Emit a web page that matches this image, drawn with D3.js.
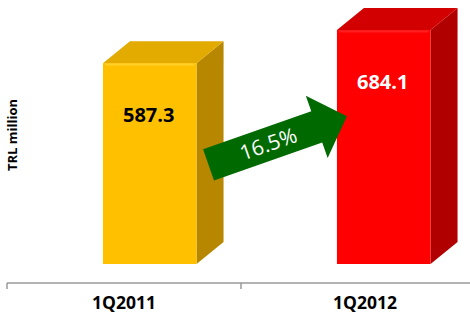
<!DOCTYPE html>
<html><head><meta charset="utf-8">
<script src="https://cdn.jsdelivr.net/npm/d3@7"></script>
<style>html,body{margin:0;padding:0;background:#fff;}svg{display:block;}</style>
</head><body>
<script>
const categories = ["1Q2011", "1Q2012"];
const values = [587.3, 684.1];
const valueLabels = ["587.3", "684.1"];
const growthLabel = "16.5%";
const yTitle = "TRL million";

const frontColors = ["#FFC000", "#FF0000"];
const sideColors = ["#B78700", "#B00000"];
const topColors = ["#E3AA00", "#D20000"];
const edgeColors = ["#FFD633", "#FF3030"];
const labelColors = ["#000000", "#FFFFFF"];

const W = 470, H = 322;
const svg = d3.select("body").append("svg").attr("width", W).attr("height", H);

const x = d3.scaleBand().domain(categories).range([7, 475]);
const y = d3.scaleLinear().domain([0, 700]).range([264, 24.6]);
const bw = x.bandwidth();
const frontX = c => x(c) + bw * 0.41;
const frontW = bw * 0.40;
const dx = 27, dy = -22;

// bars
const g = svg.append("g");
categories.forEach((c, i) => {
  const x0 = frontX(c), x1 = x0 + frontW, yt = y(values[i]), yb = y(0);
  g.append("path").attr("d", `M${x1},${yt}L${x1+dx},${yt+dy}L${x1+dx},${yb+dy}L${x1},${yb}Z`).attr("fill", sideColors[i]);
  g.append("path").attr("d", `M${x0},${yt}L${x0+dx},${yt+dy}L${x1+dx},${yt+dy}L${x1},${yt}Z`).attr("fill", topColors[i]);
  g.append("rect").attr("x", x0).attr("y", yt).attr("width", frontW).attr("height", yb - yt).attr("fill", frontColors[i]);
  // bevel highlight along the front top edge
  g.append("line").attr("x1", x0 + 2).attr("x2", x1 - 2).attr("y1", yt + 1.5).attr("y2", yt + 1.5)
    .attr("stroke", edgeColors[i]).attr("stroke-width", 2).attr("opacity", 0.7);
  g.append("text").attr("x", x0 + frontW / 2 - 1).attr("y", yt + 59)
    .attr("text-anchor", "middle").attr("font-family", "Open Sans").attr("font-weight", "bold")
    .attr("font-size", 20).attr("fill", labelColors[i]).text(valueLabels[i]);
});

// axis
const axis = d3.axisBottom(x).tickSize(0).tickFormat("");
const ax = svg.append("g").attr("transform", "translate(0,283)").call(axis);
ax.select(".domain").attr("stroke", "#9a9a9a").attr("stroke-width", 1.5).attr("d", "M7,0H470");
[x(categories[0]), x(categories[1])].forEach(t => {
  ax.append("line").attr("x1", t).attr("x2", t).attr("y1", 0).attr("y2", 6).attr("stroke", "#9a9a9a").attr("stroke-width", 1.5);
});
categories.forEach((c, i) => {
  svg.append("text").attr("x", x(c) + bw / 2 + (i ? 7 : 0)).attr("y", 309)
    .attr("text-anchor", "middle").attr("font-family", "Open Sans").attr("font-weight", "bold")
    .attr("font-size", 17.5).attr("fill", "#000").text(c);
});

// y title
svg.append("text").attr("transform", "translate(17,135) rotate(-90)")
  .attr("text-anchor", "middle").attr("font-family", "Open Sans").attr("font-weight", "bold")
  .attr("font-size", 13).attr("fill", "#000").text(yTitle);

// growth arrow
const sx = frontX(categories[0]) + frontW + 12, sy = y(290);
const ex = frontX(categories[1]) + 10, ey = y(432);
const L = Math.hypot(ex - sx, ey - sy), ang = Math.atan2(ey - sy, ex - sx) * 180 / Math.PI;
const sh = 16.5, hh = 33, hl = 32;
const ag = svg.append("g").attr("transform", `translate(${sx},${sy}) rotate(${ang})`);
ag.append("path").attr("d", `M0,${-sh}L${L-hl},${-sh}L${L-hl},${-hh}L${L},0L${L-hl},${hh}L${L-hl},${sh}L0,${sh}Z`).attr("fill", "#006A00");
ag.append("text").attr("x", (L - hl) / 2 + 6).attr("y", 7.5).attr("text-anchor", "middle")
  .attr("font-family", "Open Sans").attr("font-size", 21).attr("fill", "#fff").text(growthLabel);
</script>
</body></html>
